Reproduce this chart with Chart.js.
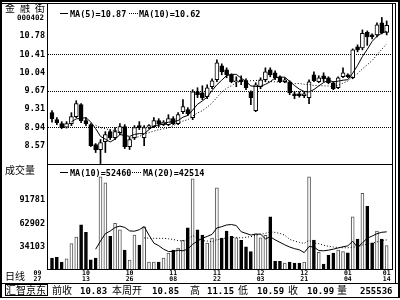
<!DOCTYPE html>
<html>
<head>
<meta charset="utf-8">
<script src="https://cdn.jsdelivr.net/npm/chart.js@4.4.1/dist/chart.umd.min.js"></script>
<style>
  body { margin: 0; background: #fff; }
  #wrap { position: relative; width: 400px; height: 300px; overflow: hidden; background: #fff; }
  canvas { position: absolute; left: 0; }
  .ln { position: absolute; background: #000; }
  .dot { position: absolute; height: 0; border-top: 1px dotted #000; }
  .t { position: absolute; white-space: nowrap; color: #000; line-height: 1; }
  .cjk { font-family: "Noto Sans CJK SC", sans-serif; font-size: 10px; }
  .num { font-family: "DejaVu Sans Mono", monospace; font-weight: bold; font-size: 8.5px; }
  .foot { font-family: "DejaVu Sans Mono", monospace; font-weight: bold; font-size: 9px; }
</style>
</head>
<body>
<div id="wrap">
  <canvas id="priceChart" width="400" height="168" style="top:0"></canvas>
  <canvas id="volChart" width="400" height="126" style="top:160px"></canvas>

  <!-- frame -->
  <div class="ln" style="left:0;top:0;width:400px;height:2px"></div>
  <div class="ln" style="left:0;top:3px;width:396px;height:1px"></div>
  <div class="ln" style="left:0;top:0;width:2px;height:298px"></div>
  <div class="ln" style="left:398px;top:0;width:2px;height:298px"></div>
  <div class="ln" style="left:395px;top:3px;width:1px;height:280px"></div>
  <div class="ln" style="left:47px;top:3px;width:1px;height:267px"></div>
  <div class="ln" style="left:392px;top:3px;width:1px;height:267px"></div>
  <div class="ln" style="left:47px;top:164px;width:346px;height:1px"></div>
  <div class="ln" style="left:47px;top:269px;width:346px;height:1px"></div>
  <div class="ln" style="left:0;top:283px;width:400px;height:1px"></div>
  <div class="ln" style="left:0;top:297px;width:400px;height:1px"></div>

  <!-- left column -->
  <div class="t cjk" style="left:5px;top:3px;letter-spacing:5px">金融街</div>
  <div class="t num" style="left:17px;top:14px;font-size:7.5px">000402</div>
  <div class="t cjk" style="left:5px;top:165px">成交量</div>
  <div class="t cjk" style="left:5px;top:271px">日线</div>

  <!-- price legend -->
  <div class="ln" style="left:60px;top:13px;width:8px;height:1px"></div>
  <div class="t num" style="left:70px;top:9.5px">MA(5)=10.87</div>
  <div class="dot" style="left:129px;top:13px;width:9px"></div>
  <div class="t num" style="left:139px;top:9.5px">MA(10)=10.62</div>

  <!-- volume legend -->
  <div class="ln" style="left:60px;top:172px;width:8px;height:1px"></div>
  <div class="t num" style="left:70px;top:168.5px">MA(10)=52460</div>
  <div class="dot" style="left:132px;top:172px;width:9px"></div>
  <div class="t num" style="left:143px;top:168.5px">MA(20)=42514</div>

  <!-- footer -->
  <div style="position:absolute;left:5px;top:284px;width:43px;height:12px;border:1px solid #000;box-sizing:border-box"></div>
  <div class="t cjk" style="left:6px;top:285px">汇智京东</div>
  <div class="t cjk" style="left:52px;top:285px">前收</div>
  <div class="t foot" style="left:80px;top:286.5px">10.83</div>
  <div class="t cjk" style="left:112px;top:285px">本周开</div>
  <div class="t foot" style="left:152px;top:286.5px">10.85</div>
  <div class="t cjk" style="left:190px;top:285px">高</div>
  <div class="t foot" style="left:207px;top:286.5px">11.15</div>
  <div class="t cjk" style="left:238px;top:285px">低</div>
  <div class="t foot" style="left:257px;top:286.5px">10.59</div>
  <div class="t cjk" style="left:288px;top:285px">收</div>
  <div class="t foot" style="left:307px;top:286.5px">10.99</div>
  <div class="t cjk" style="left:337px;top:285px">量</div>
  <div class="t foot" style="left:360px;top:286.5px">255536</div>
</div>

<script>
// daily bars, oldest first
var opens = [
  9.24, 9.10, 9.02, 8.95, 9.02, 9.16, 9.40, 9.08, 9.00, 8.60,
  8.50, 8.66, 8.86, 8.74, 8.84, 8.96, 8.56, 8.74, 8.98, 8.74,
  8.95, 8.96, 9.08, 9.00, 9.00, 9.12, 9.02, 9.26, 9.30, 9.14,
  9.66, 9.64, 9.56, 9.76, 9.90, 10.18, 10.10, 10.00, 9.86, 9.90,
  9.88, 9.66, 9.28, 9.76, 9.90, 10.10, 10.04, 9.96, 9.86, 9.86,
  9.62, 9.62, 9.58, 9.54, 10.00, 9.86, 9.98, 9.94, 9.84, 9.74,
  9.96, 10.00, 9.94, 10.56, 10.54, 10.85, 10.80, 10.80, 11.04, 10.85
];
var highs = [
  9.28, 9.14, 9.06, 9.06, 9.24, 9.48, 9.42, 9.14, 9.02, 8.62,
  8.70, 8.86, 8.90, 8.94, 9.02, 9.00, 8.74, 8.98, 9.06, 8.98,
  9.00, 9.14, 9.12, 9.08, 9.20, 9.16, 9.24, 9.50, 9.34, 9.70,
  9.74, 9.78, 9.80, 9.92, 10.30, 10.22, 10.14, 10.02, 9.96, 9.98,
  9.92, 9.68, 9.84, 9.94, 10.14, 10.14, 10.08, 9.98, 9.94, 9.88,
  9.66, 9.66, 9.66, 9.90, 10.06, 9.98, 10.04, 9.96, 9.86, 9.96,
  10.14, 10.02, 10.52, 10.60, 10.90, 10.88, 10.82, 11.04, 11.15, 11.08
];
var lows = [
  9.05, 9.00, 8.92, 8.93, 8.98, 9.14, 9.04, 8.98, 8.56, 8.44,
  8.22, 8.44, 8.70, 8.70, 8.80, 8.52, 8.50, 8.70, 8.90, 8.58,
  8.92, 8.94, 8.96, 8.98, 8.98, 9.00, 9.00, 9.22, 9.18, 9.10,
  9.54, 9.50, 9.52, 9.72, 9.86, 10.00, 9.94, 9.84, 9.76, 9.80,
  9.70, 9.40, 9.26, 9.72, 9.86, 9.96, 9.90, 9.84, 9.84, 9.60,
  9.52, 9.55, 9.54, 9.42, 9.86, 9.84, 9.86, 9.82, 9.70, 9.72,
  9.94, 9.94, 9.92, 10.46, 10.50, 10.59, 10.72, 10.76, 10.82, 10.80
];
var closes = [
  9.12, 9.04, 8.94, 9.02, 9.16, 9.42, 9.08, 9.02, 8.58, 8.50,
  8.64, 8.80, 8.74, 8.86, 8.96, 8.56, 8.70, 8.94, 8.94, 8.94,
  8.98, 9.08, 9.02, 9.05, 9.12, 9.02, 9.20, 9.36, 9.22, 9.66,
  9.60, 9.54, 9.74, 9.88, 10.24, 10.06, 10.00, 9.86, 9.88, 9.86,
  9.74, 9.54, 9.80, 9.90, 10.06, 10.00, 9.94, 9.86, 9.90, 9.64,
  9.58, 9.58, 9.62, 9.86, 9.88, 9.94, 9.92, 9.84, 9.72, 9.94,
  10.04, 9.96, 10.50, 10.50, 10.83, 10.76, 10.76, 11.00, 10.84, 10.99
];
var volumes = [
  20000, 21000, 15000, 19000, 38000, 46000, 61000, 52000, 18000, 20000,
  120400, 113000, 47000, 63000, 55000, 30000, 17600, 48600, 36000, 58500,
  15000, 15000, 15000, 20000, 26300, 30000, 32500, 42000, 57300, 118000,
  54800, 48600, 38700, 44900, 106800, 44900, 53500, 47000, 45000, 42000,
  34000, 28000, 50000, 45000, 48000, 70900, 16000, 16000, 14000, 15000,
  14000, 14000, 15000, 120400, 42400, 27000, 12700, 23800, 26300, 30000,
  28000, 26500, 71000, 43500, 100100, 84000, 39000, 53500, 43500, 35536
];

var tickDates = ["09/27", "10/13", "10/26", "11/08", "11/22", "12/03", "12/21", "01/04", "01/14"];
var tickBars = [-3, 7, 16, 25, 34, 43, 52, 61, 69];
var priceTicks = [8.57, 8.94, 9.31, 9.67, 10.04, 10.41, 10.78];
var priceGrid = [8.94, 9.67, 10.41];
var volTicks = [34103, 62902, 91781];

var xMin = -0.825;
var xMax = 70.1;
var monoFont = "'DejaVu Sans Mono', monospace";

function movingAvg(values, n) {
  return values.map(function (v, i) {
    if (i < n - 1) return null;
    var sum = 0;
    for (var k = i - n + 1; k <= i; k++) sum += values[k];
    return sum / n;
  });
}

function toPoints(values) {
  return values.map(function (v, i) {
    return { x: i, y: v };
  });
}

var ma5 = movingAvg(closes, 5);
var ma10 = movingAvg(closes, 10);
var volMa10 = movingAvg(volumes, 10);
var volMa20 = movingAvg(volumes, 20);

var bodyData = opens.map(function (o, i) { return { x: i, y: [o, closes[i]] }; });
var wickData = lows.map(function (l, i) { return { x: i, y: [l, highs[i]] }; });
var bodyFill = opens.map(function (o, i) { return closes[i] >= o ? "#fff" : "#000"; });
var volFill = bodyFill;
var volEdge = opens.map(function (o, i) { return closes[i] >= o ? "#555" : "#000"; });

function lineSet(values, dash, order) {
  return {
    type: "line",
    data: toPoints(values),
    borderColor: "#000",
    borderWidth: 1,
    borderDash: dash,
    pointRadius: 0,
    tension: 0,
    order: order,
    clip: 0,
  };
}

// no label padding: the chart area must stay where the layout puts it
function noPad(scale) {
  scale.paddingTop = 0;
  scale.paddingBottom = 0;
  scale.paddingLeft = 0;
  scale.paddingRight = 0;
}

function xAxis(showDates) {
  var axis = {
    type: "linear",
    min: xMin,
    max: xMax,
    bounds: "data",
    offset: false,
    display: showDates,
    grid: { display: false, drawTicks: false, offset: false },
    border: { display: false },
  };
  if (showDates) {
    axis.afterFit = function (scale) { noPad(scale); scale.height = 17; };
    axis.afterBuildTicks = function (scale) {
      scale.ticks = tickBars.map(function (v) { return { value: v }; });
    };
    axis.ticks = {
      autoSkip: false,
      maxRotation: 0,
      color: "#000",
      padding: 1,
      font: { family: monoFont, size: 6.5, weight: "bold", lineHeight: 0.95 },
      callback: function (v, i) { return tickDates[i].split("/"); },
    };
  }
  return axis;
}

function yAxis(min, max, ticks, gridVals) {
  return {
    min: min,
    max: max,
    bounds: "data",
    afterFit: function (scale) { noPad(scale); scale.width = 48; },
    afterBuildTicks: function (scale) {
      scale.ticks = ticks.map(function (v) { return { value: v }; });
    },
    ticks: {
      color: "#000",
      padding: 3,
      font: { family: monoFont, size: 8.5, weight: "bold" },
      callback: function (v) { return max > 100 ? String(v) : v.toFixed(2); },
    },
    grid: {
      drawTicks: false,
      lineWidth: 1,
      color: function (ctx) {
        return ctx.tick && gridVals.indexOf(ctx.tick.value) >= 0 ? "#000" : "rgba(0,0,0,0)";
      },
    },
    border: { display: false, dash: [1, 1] },
  };
}

new Chart(document.getElementById("priceChart"), {
  type: "bar",
  data: {
    datasets: [
      lineSet(ma5, [], -2),
      lineSet(ma10, [1, 2], -1),
      {
        data: bodyData,
        backgroundColor: bodyFill,
        borderColor: "#000",
        borderWidth: 1,
        borderSkipped: false,
        barThickness: 4,
        grouped: false,
        order: 0,
        clip: 0,
      },
      {
        data: wickData,
        backgroundColor: "#000",
        barThickness: 1,
        grouped: false,
        order: 1,
        clip: 0,
      },
    ],
  },
  options: {
    responsive: false,
    animation: false,
    events: [],
    layout: { padding: { top: 4, right: 8, bottom: 4, left: 0 } },
    plugins: { legend: { display: false }, tooltip: { enabled: false } },
    scales: {
      x: xAxis(false),
      y: yAxis(8.21, 11.42, priceTicks, priceGrid),
    },
  },
});

new Chart(document.getElementById("volChart"), {
  type: "bar",
  data: {
    datasets: [
      lineSet(volMa10, [], -2),
      lineSet(volMa20, [1, 2], -1),
      {
        data: toPoints(volumes),
        backgroundColor: volFill,
        borderColor: volEdge,
        borderWidth: 1,
        borderSkipped: false,
        barThickness: 3,
        grouped: false,
        order: 0,
        clip: 0,
      },
    ],
  },
  options: {
    responsive: false,
    animation: false,
    events: [],
    layout: { padding: { top: 5, right: 8, bottom: 0, left: 0 } },
    plugins: { legend: { display: false }, tooltip: { enabled: false } },
    scales: {
      x: xAxis(true),
      y: yAxis(6560, 135015, volTicks, []),
    },
  },
});
</script>
</body>
</html>
